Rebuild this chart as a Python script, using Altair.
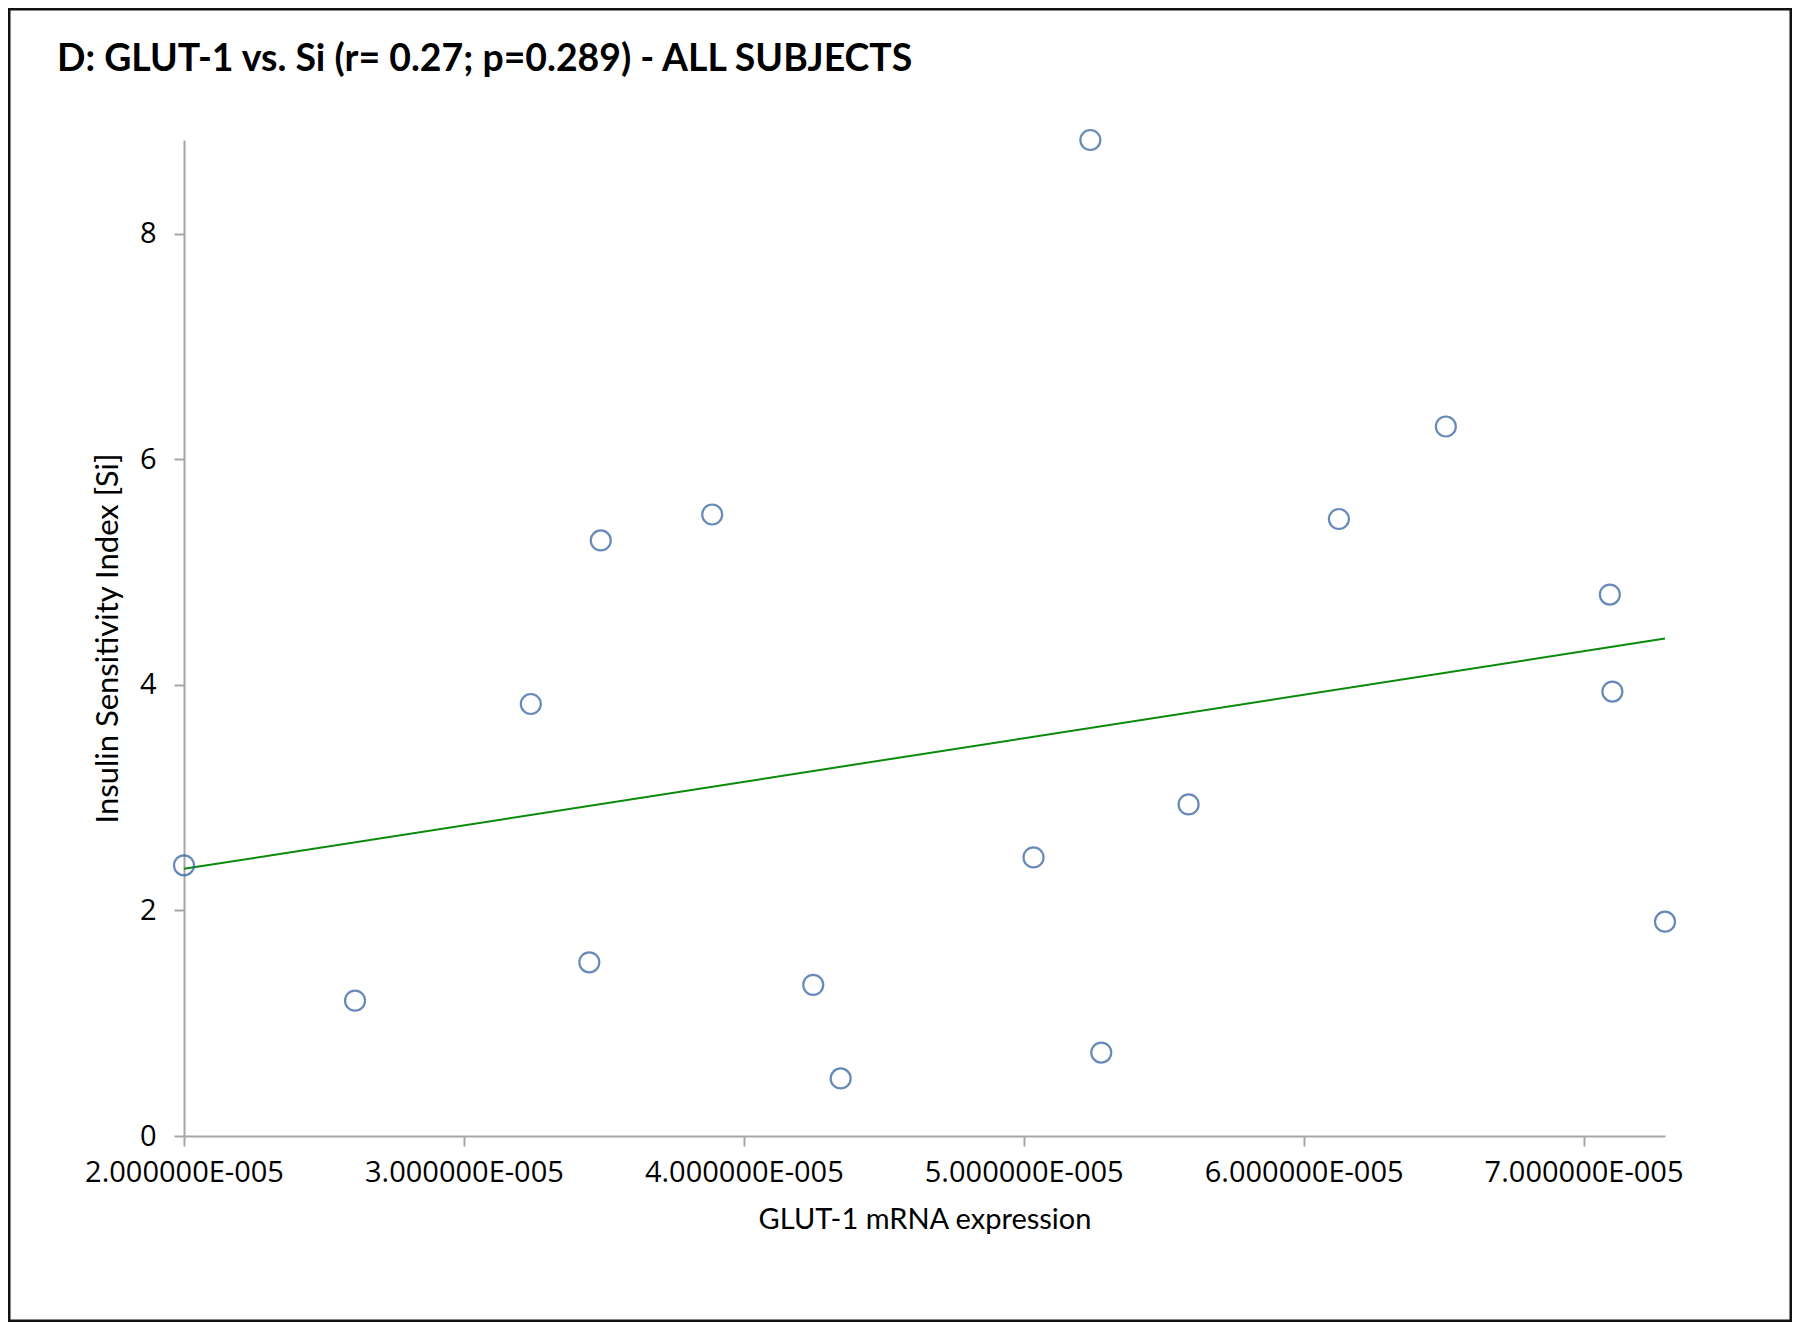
import altair as alt
import pandas as pd

# GLUT-1 mRNA expression (x) and Insulin Sensitivity Index (y)
glut1 = [2.000e-05, 2.611e-05, 3.239e-05, 3.448e-05, 3.489e-05, 3.887e-05,
         4.248e-05, 4.346e-05, 5.035e-05, 5.238e-05, 5.277e-05, 5.589e-05,
         6.126e-05, 6.508e-05, 7.094e-05, 7.103e-05, 7.291e-05]
si = [2.40, 1.20, 3.83, 1.54, 5.28, 5.51,
      1.34, 0.51, 2.47, 8.83, 0.74, 2.94,
      5.47, 6.29, 4.80, 3.94, 1.90]

x_ticks = [2e-05, 3e-05, 4e-05, 5e-05, 6e-05, 7e-05]
y_ticks = [0, 2, 4, 6, 8]
title_text = "D: GLUT-1 vs. Si (r= 0.27; p=0.289) - ALL SUBJECTS"

df = pd.DataFrame({"x": glut1, "y": si})

x_enc = alt.X("x:Q", scale=alt.Scale(domain=[2.0e-05, 7.291e-05], nice=False, zero=False),
              axis=alt.Axis(values=x_ticks, title="GLUT-1 mRNA expression",
                            labelExpr="format(datum.value*1e5, '.6f') + 'E-005'",
                            labelFont="Open Sans", labelFontSize=29, labelPadding=12,
                            labelLimit=0, labelOverlap=False, labelFlush=False,
                            titleFont="Lato", titleFontSize=29,
                            titleFontWeight="normal", titlePadding=18, grid=False))
y_enc = alt.Y("y:Q", scale=alt.Scale(domain=[0, 8.83], nice=False),
              axis=alt.Axis(values=y_ticks, title="Insulin Sensitivity Index [Si]",
                            format="d",
                            labelFont="Open Sans", labelFontSize=29, labelPadding=18,
                            titleFont="Lato", titleFontSize=31,
                            titleFontWeight="normal", titlePadding=15, grid=False))

points = alt.Chart(df).mark_point(shape="circle", filled=False, size=400,
                                  stroke="#2B5A9B", strokeWidth=2.2).encode(x=x_enc, y=y_enc)

trend = alt.Chart(df).transform_regression("x", "y").mark_line(
    color="#0A8A0A", strokeWidth=2).encode(x="x:Q", y="y:Q")

one = pd.DataFrame({"t": [title_text]})

border = alt.Chart(one).mark_rect(
    fillOpacity=0, stroke="#111111", strokeWidth=3).encode(
    x=alt.value(-175), x2=alt.value(1607), y=alt.value(-131), y2=alt.value(1181))

title = alt.Chart(one).mark_text(
    align="left", baseline="middle", font="Lato", fontSize=37.4, fontWeight="bold",
    color="black").encode(text="t:N", x=alt.value(-127), y=alt.value(-80))

chart = alt.layer(trend, points, border, title).properties(
    width=1481, height=996,
    autosize=alt.AutoSizeParams(type="none"),
    padding={"left": 176, "top": 132, "right": 127, "bottom": 186},
    background="white",
).configure_view(stroke=None).configure_axis(
    domainColor="#A6A6A6", domainWidth=2, tickColor="#A6A6A6", tickWidth=2, tickSize=10,
    labelColor="black", titleColor="black")

chart.save("out.html", embed_options={"renderer": "svg", "actions": False})
